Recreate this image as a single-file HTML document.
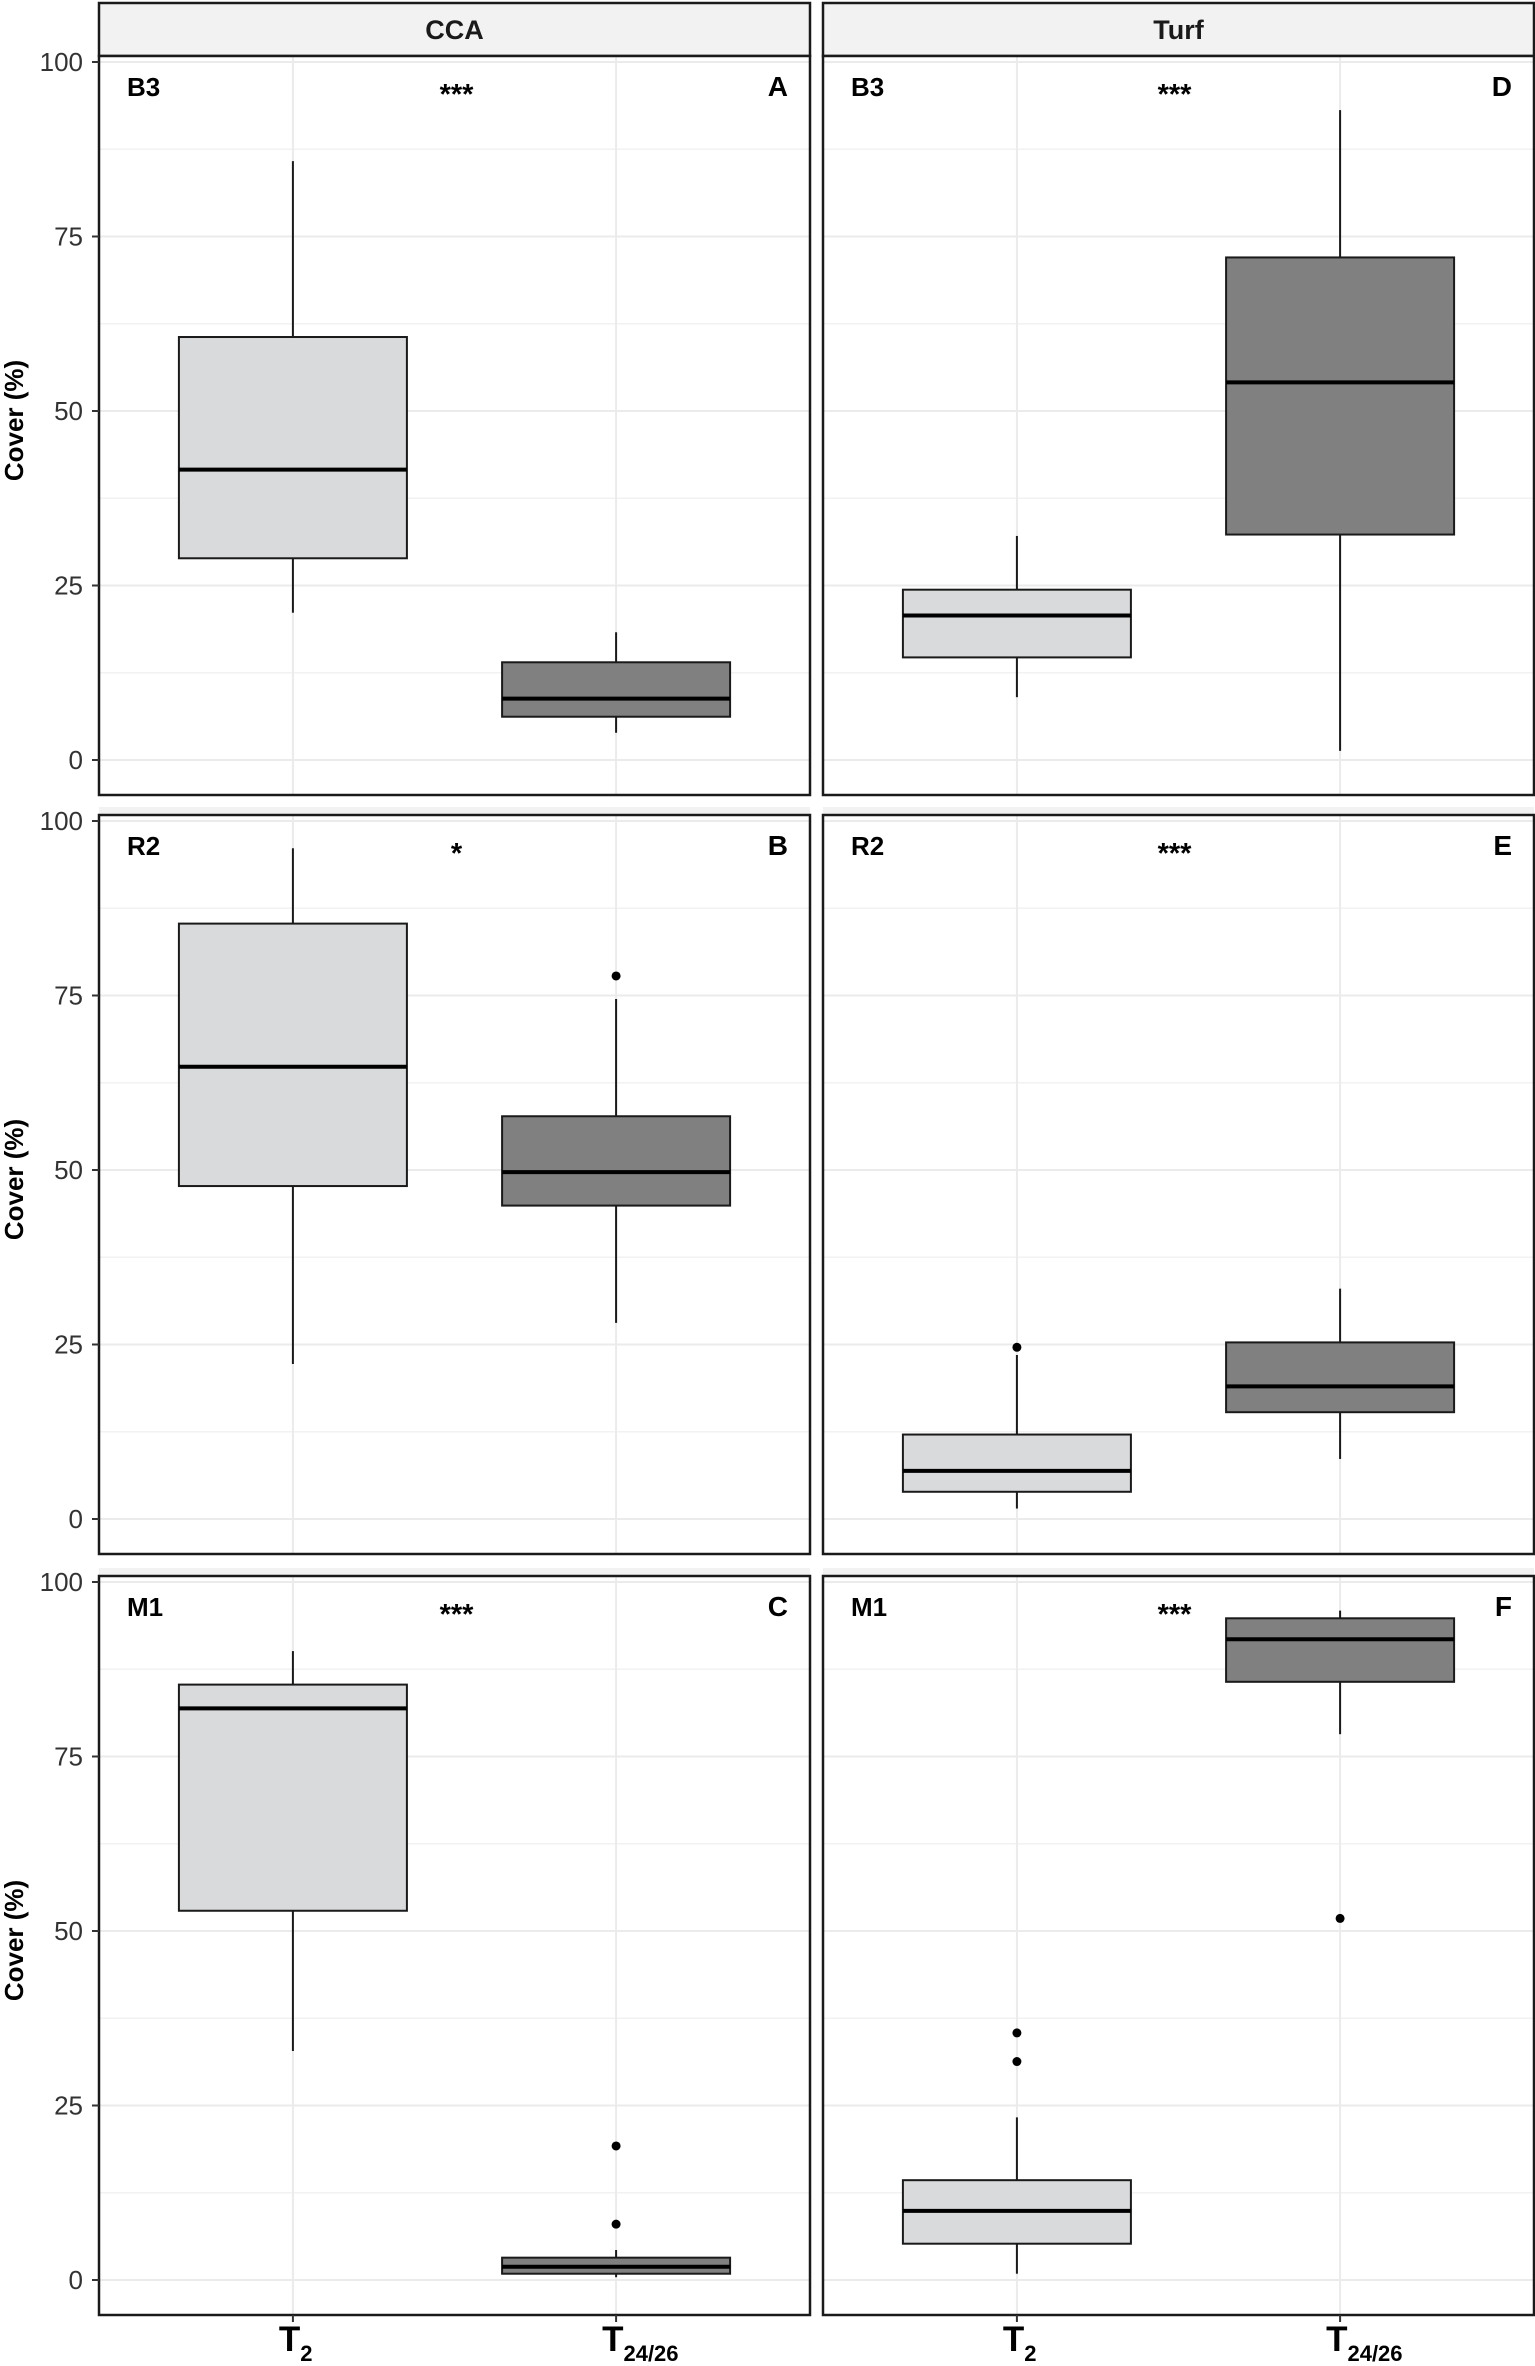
<!DOCTYPE html>
<html><head><meta charset="utf-8"><style>
html,body{margin:0;padding:0;background:#fff;}
svg{display:block;font-family:"Liberation Sans",Arial,sans-serif;}
</style></head><body>
<svg id="chart" width="1535" height="2366" viewBox="0 0 1535 2366" xmlns="http://www.w3.org/2000/svg"></svg>
<script>
// ---- data ----
const categories = ["T2", "T24/26"];
const columns = ["CCA", "Turf"];
const rowSites = ["B3", "R2", "M1"];
const panelLetters = [["A","D"],["B","E"],["C","F"]];
const significance = [["***","***"],["*","***"],["***","***"]];
const yTicks = [0, 25, 50, 75, 100];
// each stat array: [low whisker, Q1, median, Q3, high whisker]
const ccaB3_T2 = [21.1, 28.9, 41.6, 60.6, 85.8];
const ccaB3_T24 = [3.9, 6.2, 8.8, 14.0, 18.3];
const turfB3_T2 = [9.0, 14.7, 20.7, 24.4, 32.1];
const turfB3_T24 = [1.3, 32.3, 54.1, 72.0, 93.1];
const ccaR2_T2 = [22.2, 47.7, 64.8, 85.3, 96.1];
const ccaR2_T24 = [28.1, 44.9, 49.7, 57.7, 74.5];
const turfR2_T2 = [1.5, 3.9, 6.9, 12.1, 23.5];
const turfR2_T24 = [8.6, 15.3, 19.0, 25.3, 33.0];
const ccaM1_T2 = [32.8, 52.9, 81.9, 85.3, 90.1];
const ccaM1_T24 = [0.4, 0.9, 1.9, 3.2, 4.3];
const turfM1_T2 = [0.9, 5.2, 9.9, 14.3, 23.3];
const turfM1_T24 = [78.2, 85.7, 91.8, 94.8, 95.9];
// outliers
const ccaR2_T24_out = [77.8];
const turfR2_T2_out = [24.6];
const ccaM1_T24_out = [19.2, 8.0];
const turfM1_T2_out = [35.4, 31.3];
const turfM1_T24_out = [51.8];

const stats = [
  [[ccaB3_T2, ccaB3_T24],[turfB3_T2, turfB3_T24]],
  [[ccaR2_T2, ccaR2_T24],[turfR2_T2, turfR2_T24]],
  [[ccaM1_T2, ccaM1_T24],[turfM1_T2, turfM1_T24]]
];
const outliers = [
  [[[],[]],[[],[]]],
  [[[],ccaR2_T24_out],[turfR2_T2_out,[]]],
  [[[],ccaM1_T24_out],[turfM1_T2_out,turfM1_T24_out]]
];

// ---- layout ----
const svg = document.getElementById('chart');
const NS = 'http://www.w3.org/2000/svg';
const colX = [[99, 810],[823, 1534]];
const rowTop = [56, 815, 1576];
const fills = ['#d9dadb', '#808080'];
function mk(tag, attrs, parent){const e=document.createElementNS(NS,tag);for(const k in attrs)e.setAttribute(k,attrs[k]);(parent||svg).appendChild(e);return e;}
function yScale(r, v){const y100=rowTop[r]+6, y0=rowTop[r]+704;return y0-(y0-y100)*v/100;}
function xScale(c, i){const [l,rr]=colX[c];return l+(rr-l)*(0.6+i)/2.2;}

columns.forEach((name,c)=>{
  const [l,r]=colX[c];
  const g=mk('g',{});
  
  
  mk('rect',{x:l,y:3,width:r-l,height:53,fill:'#f2f2f2',stroke:'#1a1a1a','stroke-width':2.5},g);
  const t=mk('text',{x:(l+r)/2,y:39,'text-anchor':'middle','font-size':27,'font-weight':'bold',fill:'#1a1a1a'},g);
  t.textContent=name;
});

for(let r=0;r<3;r++){
  for(let c=0;c<2;c++){
    const [l,rr]=colX[c];
    const top=rowTop[r], bot=top+739;
    const g=mk('g',{});
    
    
    if(r>0){mk('rect',{x:l,y:top-8,width:rr-l,height:8,fill:'#f2f2f2'},g);}
    mk('rect',{x:l,y:top,width:rr-l,height:bot-top,fill:'#fff'},g);
    for(let k=0;k<4;k++){const v=12.5+25*k;const y=yScale(r,v);mk('line',{x1:l,x2:rr,y1:y,y2:y,stroke:'#f2f2f2','stroke-width':1.5},g);}
    yTicks.forEach(v=>{const y=yScale(r,v);mk('line',{x1:l,x2:rr,y1:y,y2:y,stroke:'#ebebeb','stroke-width':2},g);});
    categories.forEach((cat,i)=>{const x=xScale(c,i);mk('line',{x1:x,x2:x,y1:top,y2:bot,stroke:'#ebebeb','stroke-width':2},g);});
    categories.forEach((cat,i)=>{
      const s=stats[r][c][i];const x=xScale(c,i);const hw=114;
      const bg=mk('g',{},g);
      
      
      mk('line',{x1:x,x2:x,y1:yScale(r,s[3]),y2:yScale(r,s[4]),stroke:'#1a1a1a','stroke-width':2},bg);
      mk('line',{x1:x,x2:x,y1:yScale(r,s[0]),y2:yScale(r,s[1]),stroke:'#1a1a1a','stroke-width':2},bg);
      mk('rect',{x:x-hw,y:yScale(r,s[3]),width:2*hw,height:yScale(r,s[1])-yScale(r,s[3]),fill:fills[i],stroke:'#1a1a1a','stroke-width':2},bg);
      mk('line',{x1:x-hw,x2:x+hw,y1:yScale(r,s[2]),y2:yScale(r,s[2]),stroke:'#000','stroke-width':4},bg);
      outliers[r][c][i].forEach(v=>{
        const p=mk('circle',{cx:x,cy:yScale(r,v),r:4.5,fill:'#000'},bg);
        
        
      });
    });
    mk('rect',{x:l,y:top,width:rr-l,height:bot-top,fill:'none',stroke:'#1a1a1a','stroke-width':2.5},g);
    const site=mk('text',{x:l+28,y:top+40,'font-size':26,'font-weight':'bold',fill:'#000'},g);
    site.textContent=rowSites[r];
    
    
    const sig=mk('text',{x:(l+rr)/2+(c===0?2:-4),y:top+48,'text-anchor':'middle','font-size':29,'font-weight':'bold',fill:'#000'},g);
    sig.textContent=significance[r][c];
    
    
    const let_=mk('text',{x:rr-22,y:top+40,'text-anchor':'end','font-size':28,'font-weight':'bold',fill:'#000'},g);
    let_.textContent=panelLetters[r][c];
    
    
    if(c===0){
      const ag=mk('g',{});
      
      
      yTicks.forEach(v=>{
        const y=yScale(r,v);
        mk('line',{x1:92,x2:99,y1:y,y2:y,stroke:'#333','stroke-width':2},ag);
        const t=mk('text',{x:83,y:y+9,'text-anchor':'end','font-size':26,fill:'#333'},ag);
        t.textContent=v;
      });
      const ty=(top+bot)/2 - 5;
      const tt=mk('text',{x:23,y:ty,'text-anchor':'middle','font-size':26,'font-weight':'bold',fill:'#000',transform:'rotate(-90 23 '+ty+')'},ag);
      tt.textContent='Cover (%)';
      
      
    }
  }
}
for(let c=0;c<2;c++){
  categories.forEach((cat,i)=>{
    const x=xScale(c,i);
    const t=mk('text',{x:x-14,y:2351,'font-size':35,'font-weight':'bold',fill:'#000'});
    
    
    const a=document.createElementNS(NS,'tspan');a.textContent='T';t.appendChild(a);
    const b=document.createElementNS(NS,'tspan');b.setAttribute('dy','10');b.setAttribute('font-size','22');b.textContent=cat.slice(1);t.appendChild(b);
    mk('line',{x1:x,x2:x,y1:2315,y2:2322,stroke:'#333','stroke-width':2});
  });
}
</script>
</body></html>
